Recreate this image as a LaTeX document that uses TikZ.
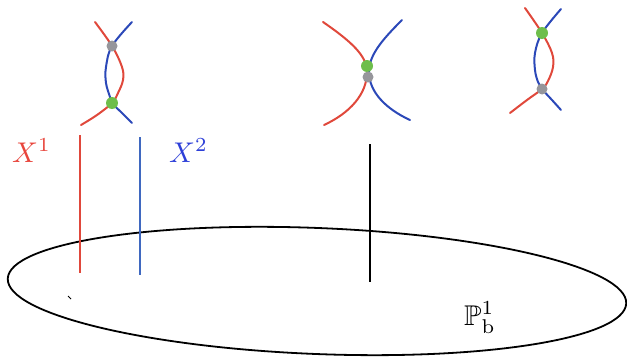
\documentclass[tikz,border=0pt]{standalone}
\usepackage{amssymb}
\usepackage{graphicx}
\definecolor{rline}{RGB}{224,72,59}
\definecolor{bline}{RGB}{43,72,184}
\definecolor{bvert}{RGB}{63,104,192}
\definecolor{rtext}{RGB}{232,69,60}
\definecolor{btext}{RGB}{45,63,216}
\definecolor{gdot}{RGB}{110,190,75}
\definecolor{sdot}{RGB}{150,150,155}
\newcommand{\biglbl}[1]{\scalebox{2.85}{#1}}
\tikzset{
  redcurve/.style={draw=rline, line width=2pt, line cap=round},
  bluecurve/.style={draw=bline, line width=2pt, line cap=round},
  greendot/.style={circle, fill=gdot, inner sep=0pt, minimum size=12pt},
  greydot/.style={circle, fill=sdot, inner sep=0pt, minimum size=11pt},
  fibre/.style={line width=1.6pt},
  lbl/.style={inner sep=0pt}
}
\begin{document}
\begin{tikzpicture}[x=1pt,y=1pt]
\useasboundingbox (0,0) rectangle (627,-359);
% base curve
\coordinate (c) at (317,-291);
\draw[line width=1.8pt, rotate around={-2.3:(c)}] (c) ellipse [x radius=309.5pt, y radius=63pt];
\draw[line width=0.8pt] (68,-296) -- (71,-299);
% fibres
\coordinate (r1t) at (80,-135); \coordinate (r1b) at (80,-273);
\coordinate (b1t) at (140,-137); \coordinate (b1b) at (140,-275);
\coordinate (k1t) at (370,-144); \coordinate (k1b) at (370,-282);
\draw[fibre, draw=rline] (r1t) -- (r1b);
\draw[fibre, draw=bvert] (b1t) -- (b1b);
\draw[fibre, draw=black] (k1t) -- (k1b);
% labels
\node[lbl, text=rtext, anchor=base west] (x1) at (12,-162) {\biglbl{$X^1$}};
\node[lbl, text=btext, anchor=base west] (x2) at (169,-162) {\biglbl{$X^2$}};
\node[lbl, anchor=base west] (pb) at (464,-325) {\biglbl{$\mathbb{P}^1_{\mathrm{b}}$}};
% group 1
\coordinate (g1a) at (112,-46);
\coordinate (g1b) at (112,-103);
\draw[redcurve] plot[smooth, tension=0.6] coordinates {(95,-22) (g1a) (122,-67) (123,-80) (118,-93) (g1b) (97,-115) (81,-125)};
\draw[bluecurve] plot[smooth, tension=0.6] coordinates {(132,-22) (g1a) (106,-67) (106,-83) (110,-97) (g1b) (122,-113) (132,-123)};
\node[greydot] (d1a) at (g1a) {};
\node[greendot] (d1b) at (g1b) {};
% group 2
\coordinate (r2t) at (323,-22); \coordinate (r2m) at (367,-72); \coordinate (r2b) at (324,-125);
\coordinate (b2t) at (402,-20); \coordinate (b2m) at (369,-72); \coordinate (b2b) at (410,-120);
\draw[redcurve] (r2t) .. controls (352,-42) and (367,-56) .. (r2m) .. controls (367,-94) and (350,-113) .. (r2b);
\draw[bluecurve] (b2t) .. controls (382,-40) and (369,-55) .. (b2m) .. controls (369,-92) and (386,-109) .. (b2b);
\node[greendot] (d2a) at (367,-66) {};
\node[greydot] (d2b) at (368,-77) {};
% group 3
\coordinate (g3a) at (542,-33);
\coordinate (g3b) at (542,-89);
\draw[redcurve] plot[smooth, tension=0.6] coordinates {(525,-8) (g3a) (552,-53) (553,-67) (548,-81) (g3b) (527,-100) (510,-113)};
\draw[bluecurve] plot[smooth, tension=0.6] coordinates {(561,-9) (g3a) (535,-53) (535,-70) (538,-82) (g3b) (552,-100) (561,-110)};
\node[greendot] (d3a) at (g3a) {};
\node[greydot] (d3b) at (g3b) {};
\end{tikzpicture}
\end{document}
